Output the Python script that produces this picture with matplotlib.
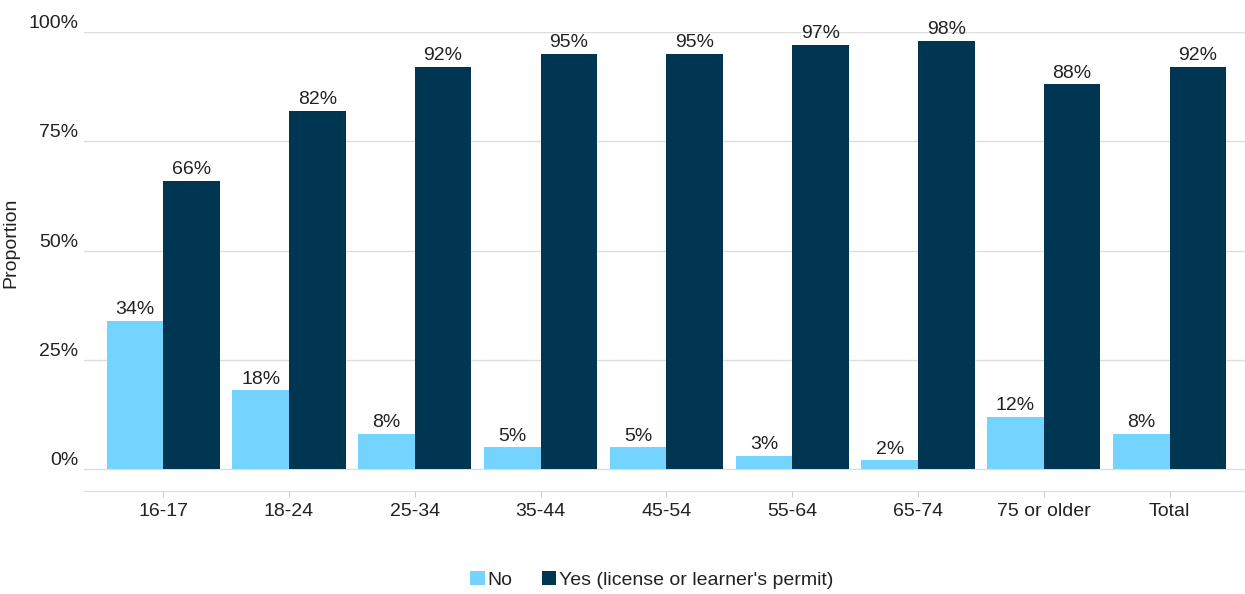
import matplotlib.pyplot as plt
import numpy as np

plt.rcParams['font.family'] = ['Liberation Sans', 'DejaVu Sans']

ages = ['16-17', '18-24', '25-34', '35-44', '45-54', '55-64', '65-74', '75 or older', 'Total']
no_vals = [34, 18, 8, 5, 5, 3, 2, 12, 8]
yes_vals = [66, 82, 92, 95, 95, 97, 98, 88, 92]

c_no = '#75D3FF'
c_yes = '#003651'
txt = '#222222'
fs = 14

fig = plt.figure(figsize=(12.45, 5.94), dpi=100)
ax = fig.add_axes([84 / 1245, 1 - 491 / 594, 1 - 84 / 1245, (491 - 32) / 594])

x = np.arange(len(ages))
w = 0.45
b1 = ax.bar(x - w / 2, no_vals, w, color=c_no, label='No')
b2 = ax.bar(x + w / 2, yes_vals, w, color=c_yes, label="Yes (license or learner's permit)")

for bars, vals in ((b1, no_vals), (b2, yes_vals)):
    for r, v in zip(bars, vals):
        ax.annotate(f'{v}%', (r.get_x() + r.get_width() / 2, r.get_height()),
                    xytext=(0, 2), textcoords='offset points',
                    ha='center', va='bottom', fontsize=fs, color=txt, clip_on=False)

ax.set_xlim(-0.63, 8.6)
ax.set_ylim(-5, 100)
ax.set_yticks([0, 25, 50, 75, 100])
ax.set_yticklabels(['0%', '25%', '50%', '75%', '100%'])
for lab in ax.get_yticklabels():
    lab.set_verticalalignment('bottom')
ax.grid(axis='y', color='#DDDDDD', linewidth=1)
ax.set_axisbelow(True)

ax.set_xticks(x)
ax.set_xticklabels(ages)
ax.tick_params(axis='x', length=4, color='#CCCCCC', pad=5, labelsize=fs, labelcolor=txt)
ax.tick_params(axis='y', length=0, pad=4, labelsize=fs, labelcolor=txt)

for s in ('top', 'right', 'left'):
    ax.spines[s].set_visible(False)
ax.spines['bottom'].set_color('#DDDDDD')

ax.set_ylabel('Proportion', fontsize=fs, color=txt)
ax.yaxis.set_label_coords(-0.056, 0.54)

fig.legend(loc='center', bbox_to_anchor=(652 / 1245, 1 - 580 / 594), ncol=2, frameon=False,
           fontsize=fs, handlelength=0.75, handleheight=0.75, handletextpad=0.15,
           columnspacing=1.5, labelcolor=txt)

fig.savefig('out.png', dpi=100)
